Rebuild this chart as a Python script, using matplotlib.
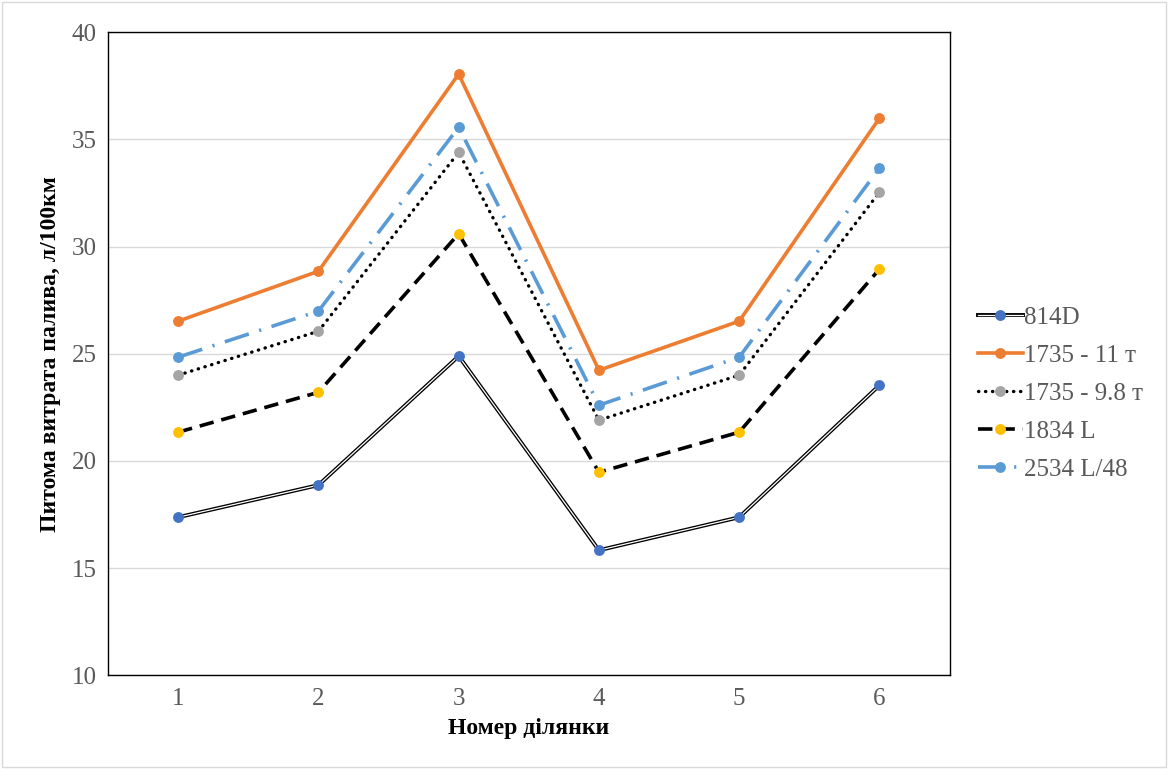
import matplotlib
matplotlib.use("Agg")
import matplotlib.pyplot as plt
from matplotlib.lines import Line2D

sections = [1, 2, 3, 4, 5, 6]
s_814d = [17.37, 18.87, 24.89, 15.83, 17.37, 23.53]
s_1735_11 = [26.52, 28.85, 38.05, 24.23, 26.52, 35.99]
s_1735_98 = [24.0, 26.05, 34.4, 21.9, 24.0, 32.54]
s_1834l = [21.34, 23.2, 30.6, 19.47, 21.34, 28.95]
s_2534 = [24.84, 26.99, 35.57, 22.6, 24.84, 33.66]

names = ["814D", "1735 - 11 т", "1735 - 9.8 т", "1834 L", "2534 L/48"]

plt.rcParams['font.family'] = ['Liberation Serif', 'DejaVu Serif']
grey = "#595959"
MS = 6.8

fig = plt.figure(figsize=(11.68, 7.69), dpi=100)
ax = fig.add_axes([0.0925, 0.122, 0.7205, 0.836])

# 814D: double line (black outline with white core)
ax.plot(sections, s_814d, color="black", lw=2.8, zorder=3)
ax.plot(sections, s_814d, color="white", lw=0.9, zorder=3.1)
ax.plot(sections, s_814d, ls="none", marker="o", ms=MS, color="#4472C4", zorder=4)

ax.plot(sections, s_1735_11, color="#ED7D31", lw=2.6, marker="o", ms=MS,
        zorder=3)

ax.plot(sections, s_1735_98, color="black", lw=2.4, ls=(0, (0.1, 2.0)),
        dash_capstyle="round", zorder=3)
ax.plot(sections, s_1735_98, ls="none", marker="o", ms=MS, color="#A5A5A5", zorder=4)

ax.plot(sections, s_1834l, color="black", lw=2.6, ls=(0, (4.0, 2.2)), zorder=3)
ax.plot(sections, s_1834l, ls="none", marker="o", ms=MS, color="#FFC000", zorder=4)

ax.plot(sections, s_2534, color="#5B9BD5", lw=2.6, ls=(0, (7.0, 3.0, 0.6, 3.0)),
        marker="o", ms=MS, zorder=3)

ax.set_xlim(0.5, 6.5)
ax.set_ylim(10, 40)
ax.set_xticks(sections)
ax.set_yticks([10, 15, 20, 25, 30, 35, 40])
ax.grid(axis="y", color="#D9D9D9", lw=1.0)
ax.set_axisbelow(True)
ax.tick_params(axis="x", length=0, labelsize=18, labelcolor=grey, pad=9)
ax.tick_params(axis="y", length=0, labelsize=18, labelcolor=grey, pad=8)
for sp in ax.spines.values():
    sp.set_color("black")
    sp.set_linewidth(1.0)

ax.set_xlabel("Номер ділянки", fontsize=17, fontweight="bold", labelpad=6)
ax.set_ylabel("Питома витрата палива, л/100км", fontsize=17, fontweight="bold",
              labelpad=8)

# Legend handles
h814 = (Line2D([], [], color="black", lw=2.8),
        Line2D([], [], color="white", lw=0.9),
        Line2D([], [], ls="none", marker="o", ms=MS, color="#4472C4"))
h11 = Line2D([], [], color="#ED7D31", lw=2.6, marker="o", ms=MS)
h98 = Line2D([], [], color="black", lw=2.4, ls=(0, (0.1, 2.0)),
             dash_capstyle="round", marker="o", ms=MS,
             markerfacecolor="#A5A5A5", markeredgecolor="#A5A5A5")
h1834 = Line2D([], [], color="black", lw=2.6, ls=(0, (4.0, 2.2)), marker="o",
               ms=MS, markerfacecolor="#FFC000", markeredgecolor="#FFC000")
h2534 = Line2D([], [], color="#5B9BD5", lw=2.6, ls=(0, (7.0, 3.0, 0.6, 3.0)),
               marker="o", ms=MS)
leg = fig.legend([h814, h11, h98, h1834, h2534], names,
                 loc="center left", bbox_to_anchor=(0.822, 0.488),
                 frameon=False, fontsize=18, handlelength=1.8,
                 handletextpad=0.05, labelspacing=0.62, borderpad=0.2)
for t in leg.get_texts():
    t.set_color(grey)

# light border around the whole chart
fig.patches.append(plt.Rectangle((0.002, 0.002), 0.996, 0.996,
                                 transform=fig.transFigure, fill=False,
                                 edgecolor="#D9D9D9", lw=1.0))

fig.savefig("out.png", dpi=100)
